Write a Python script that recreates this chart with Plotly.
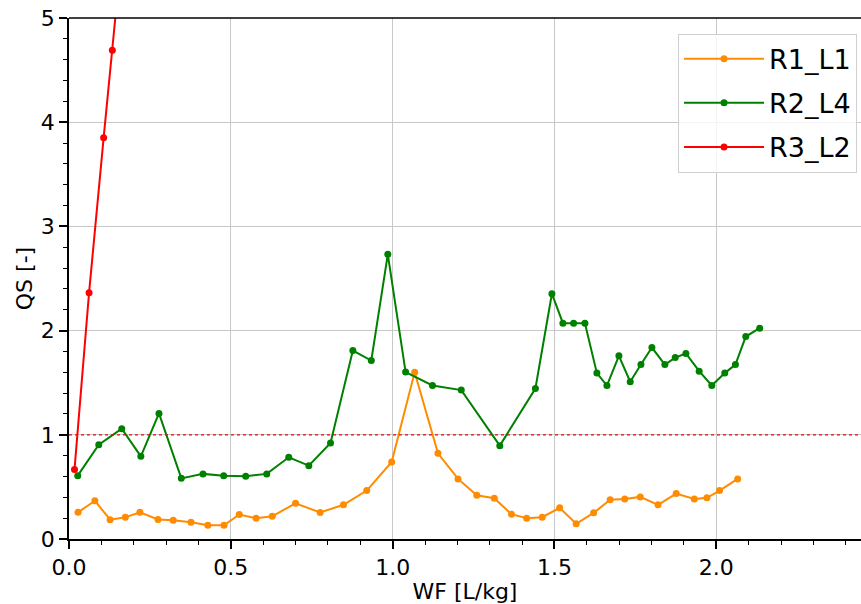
import plotly.graph_objects as go

# R1_L1 (orange)
r1_x = [0.028, 0.080, 0.127, 0.174, 0.219, 0.275, 0.322, 0.377, 0.429, 0.479,
        0.526, 0.578, 0.628, 0.700, 0.776, 0.848, 0.920, 0.997, 1.068, 1.140,
        1.202, 1.260, 1.314, 1.367, 1.414, 1.462, 1.516, 1.567, 1.621, 1.672,
        1.717, 1.765, 1.820, 1.876, 1.932, 1.971, 2.010, 2.066]
r1_y = [0.256, 0.367, 0.185, 0.208, 0.256, 0.187, 0.180, 0.161, 0.132, 0.132,
        0.235, 0.199, 0.218, 0.343, 0.254, 0.328, 0.465, 0.739, 1.600, 0.822,
        0.577, 0.420, 0.391, 0.238, 0.199, 0.209, 0.299, 0.146, 0.251, 0.376,
        0.385, 0.404, 0.328, 0.436, 0.385, 0.395, 0.465, 0.577]

# R2_L4 (green)
r2_x = [0.027, 0.092, 0.163, 0.222, 0.278, 0.347, 0.414, 0.478, 0.546, 0.611,
        0.679, 0.741, 0.808, 0.877, 0.934, 0.985, 1.040, 1.123, 1.212, 1.331,
        1.441, 1.492, 1.526, 1.559, 1.594, 1.631, 1.662, 1.699, 1.734, 1.767,
        1.801, 1.841, 1.873, 1.906, 1.947, 1.986, 2.026, 2.059, 2.091, 2.134]
r2_y = [0.608, 0.905, 1.058, 0.793, 1.205, 0.582, 0.625, 0.608, 0.602, 0.625,
        0.784, 0.704, 0.921, 1.808, 1.713, 2.732, 1.602, 1.473, 1.429, 0.896,
        1.444, 2.354, 2.071, 2.071, 2.071, 1.592, 1.473, 1.758, 1.509, 1.674,
        1.837, 1.674, 1.741, 1.780, 1.611, 1.473, 1.592, 1.674, 1.943, 2.023]

# R3_L2 (red)
r3_x = [0.017, 0.062, 0.107, 0.134, 0.165]
r3_y = [0.666, 2.364, 3.850, 4.690, 5.700]

threshold = 1.0

FONT = "DejaVu Sans"

fig = go.Figure()
series = [
    ("R1_L1", r1_x, r1_y, "#FF8C00"),
    ("R2_L4", r2_x, r2_y, "#008000"),
    ("R3_L2", r3_x, r3_y, "#FF0000"),
]
for name, xs, ys, col in series:
    fig.add_trace(go.Scatter(
        x=xs, y=ys, mode="lines+markers", name=name, legendgroup=name,
        line=dict(color=col, width=2),
        marker=dict(color=col, size=7),
    ))

fig.add_shape(type="line", xref="paper", yref="y", x0=0, x1=1,
              y0=threshold, y1=threshold,
              line=dict(color="red", width=1.2, dash="dot"))
# top spine
fig.add_shape(type="line", xref="paper", yref="paper", x0=0, x1=1, y0=1, y1=1,
              line=dict(color="black", width=1.6))

fig.update_layout(
    width=861, height=604,
    margin=dict(l=69, r=0, t=18, b=65),
    paper_bgcolor="white", plot_bgcolor="white",
    font=dict(family=FONT, color="black", size=22),
    showlegend=True,
    legend=dict(
        x=0.995, y=0.97, xanchor="right", yanchor="top",
        font=dict(family=FONT, size=27, color="black"),
        bgcolor="rgba(255,255,255,0.8)",
        bordercolor="#d0d0d0", borderwidth=1,
        tracegroupgap=6,
        itemwidth=80,
    ),
    xaxis=dict(
        range=[0, 2.447],
        tickvals=[0.0, 0.5, 1.0, 1.5, 2.0],
        ticktext=["0.0", "0.5", "1.0", "1.5", "2.0"],
        showgrid=True, gridcolor="#c8c8c8", gridwidth=1,
        zeroline=False,
        showline=True, linecolor="black", linewidth=1.6,
        ticks="outside", ticklen=8, tickwidth=1.6, tickcolor="black",
        tickfont=dict(family=FONT, size=22),
        minor=dict(dtick=0.1, tick0=0, ticks="outside", ticklen=4, tickwidth=1.2,
                   tickcolor="black", showgrid=False),
        title=dict(text="WF [L/kg]", font=dict(family=FONT, size=22), standoff=5),
    ),
    yaxis=dict(
        range=[0, 5],
        tickvals=[0, 1, 2, 3, 4, 5],
        ticktext=["0", "1", "2", "3", "4", "5"],
        showgrid=True, gridcolor="#c8c8c8", gridwidth=1,
        zeroline=False,
        showline=True, linecolor="black", linewidth=1.6,
        ticks="outside", ticklen=8, tickwidth=1.6, tickcolor="black",
        tickfont=dict(family=FONT, size=22),
        minor=dict(dtick=0.2, tick0=0, ticks="outside", ticklen=4, tickwidth=1.2,
                   tickcolor="black", showgrid=False),
        title=dict(text="QS [-]", font=dict(family=FONT, size=22), standoff=2),
    ),
)

fig.write_html(
    "out.html",
    config={"displayModeBar": False},
    post_script="document.body.style.margin='0';document.body.style.overflow='hidden';",
)
